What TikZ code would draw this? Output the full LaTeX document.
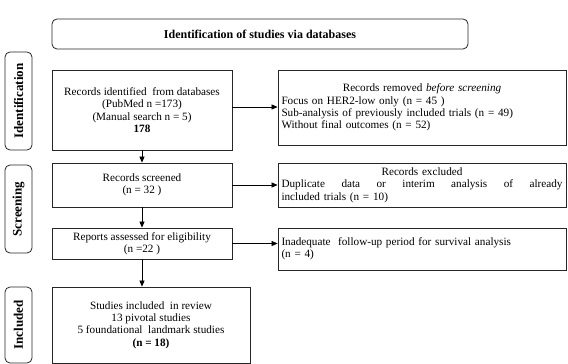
\documentclass[tikz,border=0pt]{standalone}
\usepackage{fontspec}
\setmainfont{Liberation Serif}
\usetikzlibrary{arrows.meta}
\begin{document}
\begin{tikzpicture}[x=1pt,y=-1pt,
  box/.style={draw=black!85,line width=0.8pt,inner sep=3pt,
    font=\fontsize{11.2}{12.4}\selectfont},
  sidebox/.style={draw=black!85,line width=0.8pt,rounded corners=5pt,
    minimum width=27pt,inner sep=0pt},
  sidelabel/.style={rotate=90,font=\fontsize{13}{14}\selectfont\bfseries},
  arr/.style={draw=black,line width=0.7pt,-{Triangle[length=6pt,width=5pt]}}]
\useasboundingbox (0,0) rectangle (568,364);
% title
\node[box,rounded corners=5pt,minimum width=416pt,minimum height=30pt,font=\fontsize{12}{13}\selectfont\bfseries]
  (top) at (260,34) {Identification of studies via databases};
% side boxes
\node[sidebox,minimum height=98pt] (sideI) at (18.5,101) {};
\node[sidelabel] (labI) at (sideI.center) {Identification};
\node[sidebox,minimum height=88pt] (sideS) at (18.5,209) {};
\node[sidelabel] (labS) at (sideS.center) {Screening};
\node[sidebox,minimum height=76pt] (sideN) at (18.5,325) {};
\node[sidelabel] (labN) at (sideN.center) {Included};
% left column
\node[box,minimum width=180pt,minimum height=80pt,align=center] (ident) at (142,110)
  {Records identified\ \ from databases\\(PubMed n =173)\\(Manual search n = 5)\\\textbf{178}};
\node[box,minimum width=180pt,minimum height=44pt,align=center] (screened) at (142,185)
  {Records screened\\(n = 32 )};
\node[box,minimum width=180pt,minimum height=31pt,align=center] (reports) at (142,243.5)
  {Reports assessed for eligibility\\(n =22 )};
\node[box,minimum width=198pt,minimum height=76pt,align=center] (studies) at (151,325)
  {Studies included\ \ in review\\13 pivotal studies\\5 foundational\ \ landmark studies\\\textbf{(n = 18)}};
% right column
\node[box,minimum width=288pt,minimum height=75pt,text width=281pt] (removed) at (422,107.5)
  {\centering Records removed \textit{before screening}\par
   \raggedright Focus on HER2-low only (n = 45 )\\
   Sub-analysis of previously included trials (n = 49)\\
   Without final outcomes (n = 52)};
\node[box,minimum width=288pt,minimum height=44pt,text width=281pt] (excluded) at (422,185)
  {\centering Records excluded\par
   \raggedright\hbox to 281pt{Duplicate\hfill data\hfill or\hfill interim\hfill analysis\hfill of\hfill already}
   included trials (n = 10)};
\node[box,minimum width=288pt,minimum height=42pt,text width=281pt,align=left] (inadequate) at (422,249)
  {Inadequate\ \ follow-up period for survival analysis\\(n = 4)};
% arrows
\draw[arr] (ident.east |- 0,107) -- (removed.west |- 0,107);
\draw[arr] (screened.east) -- (excluded.west |- screened.east);
\draw[arr] (reports.east) -- (inadequate.west |- reports.east);
\draw[arr] (ident.south) -- (screened.north);
\draw[arr] (screened.south) -- (reports.north);
\draw[arr] (reports.south) -- (reports.south |- studies.north);
\end{tikzpicture}
\end{document}
